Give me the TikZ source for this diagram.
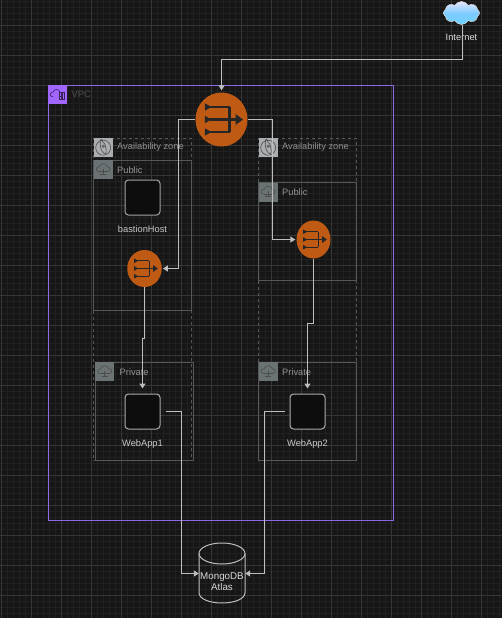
\documentclass[tikz,border=0pt]{standalone}
\usepackage{fontspec}
\setmainfont{Liberation Sans}
\usetikzlibrary{shapes.geometric,shapes.symbols,arrows.meta}

\definecolor{bgdark}{HTML}{161616}
\definecolor{gridminor}{HTML}{212121}
\definecolor{gridmajor}{HTML}{363636}
\definecolor{vpcline}{HTML}{8F66E6}
\definecolor{vpcfill}{HTML}{A166FF}
\definecolor{natfill}{HTML}{BF5A15}
\definecolor{zonegray}{HTML}{ABAEB0}
\definecolor{subgray}{HTML}{6B7274}
\definecolor{boxline}{HTML}{54585A}
\definecolor{linkgray}{HTML}{BEBEBE}

\tikzset{
  group/.style={draw=boxline, line width=1pt, anchor=north west, inner sep=0pt, outer sep=0pt},
  zone/.style={group, dash pattern=on 3pt off 3pt},
  badge/.style={anchor=north west, minimum size=19pt, inner sep=0pt},
  caption/.style={text=#1, font=\fontsize{9.3}{11}\selectfont, anchor=west, inner sep=0pt},
  natround/.style={ellipse, fill=natfill, inner sep=0pt},
  hostbox/.style={draw=#1, fill=bgdark!60!black, line width=1pt, rounded corners=3.5pt, minimum size=35pt, inner sep=0pt},
  textonly/.style={text=#1, font=\fontsize{9.3}{11}\selectfont, inner sep=0pt, align=center},
  link/.style={draw=linkgray, line width=1pt, -{Triangle[length=5pt,width=6pt]}},
  natIcon/.pic={
    \draw (-12,-12.5) -- (8,-12.5) (-12,12.5) -- (8,12.5) (8,-12.5) -- (8,12.5) (-12,0) -- (15,0);
    \fill (-16.7,-16.2) -- (-10,-12.5) -- (-16.7,-8.8) -- cycle;
    \fill (-16.7,-3.7) -- (-10,0) -- (-16.7,3.7) -- cycle;
    \fill (-16.7,8.8) -- (-10,12.5) -- (-16.7,16.2) -- cycle;
    \fill (14,-5.5) -- (21.5,0) -- (14,5.5) -- cycle;
  },
  smallCloud/.pic={
    \draw (-4,3) .. controls (-8,3) and (-8,-2) .. (-4,-2) .. controls (-3,-6) and (3,-6) .. (4,-2) .. controls (8,-2) and (8,3) .. (4,3);
  },
  lockCloud/.pic={
    \pic {smallCloud};
    \draw (-4,3) -- (4,3);
    \draw (-3,5.5) -- (3,5.5) (0,0) -- (0,5.5);
  }
}

\begin{document}
\begin{tikzpicture}[x=1pt, y=-1pt]
  \useasboundingbox (0,0) rectangle (502,618);
  \fill[bgdark] (0,0) rectangle (502,618);

  % grid
  \foreach \i in {0,...,84} \draw[gridminor, line width=1pt] (1.5+6*\i,0) -- (1.5+6*\i,618);
  \foreach \i in {-4,...,99} \draw[gridminor, line width=1pt] (0,25.5+6*\i) -- (502,25.5+6*\i);
  \foreach \i in {0,...,16} \draw[gridmajor, line width=1pt] (1.5+30*\i,0) -- (1.5+30*\i,618);
  \foreach \i in {0,...,19} \draw[gridmajor, line width=1pt] (0,25.5+30*\i) -- (502,25.5+30*\i);

  % groups
  \node[draw=vpcline, line width=1pt, anchor=north west, inner sep=0pt, outer sep=0pt, minimum width=344.7pt, minimum height=434.8pt] (vpc) at (48.5,85.7) {};
  \node[zone, minimum width=98pt, minimum height=322pt] (zoneA) at (93.5,138.5) {};
  \node[zone, minimum width=98pt, minimum height=322pt] (zoneB) at (258.5,138.5) {};
  \node[group, minimum width=98pt, minimum height=150pt] (publicA) at (93.5,160.5) {};
  \node[group, minimum width=98pt, minimum height=98pt] (publicB) at (258.5,182.5) {};
  \node[group, minimum width=98pt, minimum height=98pt] (privateA) at (95.5,362.5) {};
  \node[group, minimum width=98pt, minimum height=98pt] (privateB) at (258.5,362.5) {};

  % badges
  \node[badge, fill=vpcfill] (vpcBadge) at (48,85) {};
  \node[badge, fill=zonegray] (zoneABadge) at (93.5,138) {};
  \node[badge, fill=zonegray] (zoneBBadge) at (258.5,138) {};
  \node[badge, fill=subgray] (publicABadge) at (93.5,160) {};
  \node[badge, fill=subgray] (publicBBadge) at (258.5,182.5) {};
  \node[badge, fill=subgray] (privateABadge) at (95,362) {};
  \node[badge, fill=subgray] (privateBBadge) at (258.5,362) {};

  \draw[black!65!vpcfill, line width=0.6pt] (56.5,94) pic[scale=0.9] {smallCloud};
  \draw[black!65!vpcfill, line width=0.6pt] (59.5,92.5) rectangle (64,99.5);
  \draw[black!65!vpcfill, line width=0.6pt] (61,93) -- (61,99) (62.5,93) -- (62.5,99);
  \foreach \b in {zoneABadge,zoneBBadge} {
    \draw[black!70, line width=0.6pt] (\b) circle (7.5pt);
    \draw[black!70, line width=0.6pt] (\b) ++(0,5) .. controls +(-5,-5) and +(-3,-10) .. ++(0,-10) .. controls +(3,0) and +(5,5) .. ++(0,10);
    \draw[black!70, line width=0.6pt] (\b) ++(0,-1.5) circle (1.2pt);
  }
  \foreach \b in {publicABadge,publicBBadge,privateABadge,privateBBadge}
    \draw[black!70, line width=0.6pt] (\b) ++(0,-1) pic {lockCloud};

  % captions
  \node[caption=black!55!white!70!black] (vpcText) at (71.5,94.5) {VPC};
  \node[caption=gray!90] (zoneAText) at (117,147.5) {Availability zone};
  \node[caption=gray!90] (zoneBText) at (282,147.5) {Availability zone};
  \node[caption=gray!85] (publicAText) at (117,170) {Public};
  \node[caption=gray!85] (publicBText) at (282,192.5) {Public};
  \node[caption=gray!85] (privateAText) at (119.5,372.5) {Private};
  \node[caption=gray!85] (privateBText) at (282,372.5) {Private};

  % nodes
  \node[cloud, cloud puffs=8, cloud puff arc=120, aspect=1.6, draw=white!85!black, line width=0.5pt,
        top color=white!90!blue, bottom color=white!70!blue!60!cyan, middle color=blue!40!cyan!50!white,
        inner sep=0pt, minimum width=36pt, minimum height=23pt] (internet) at (461.5,13) {};
  \node[textonly=white!85!black] (internetText) at (461.5,37.5) {Internet};
  \node[natround, minimum width=52pt, minimum height=54pt] (natMain) at (221.5,119.5) {};
  \node[natround, minimum width=34.5pt, minimum height=37pt] (natA) at (144.5,268.5) {};
  \node[natround, minimum width=34pt, minimum height=38pt] (natB) at (313.5,239.5) {};
  \node[hostbox=linkgray!85!black] (bastionHost) at (142.5,197.5) {};
  \node[hostbox=linkgray!90!black] (webApp1) at (142.5,411.5) {};
  \node[hostbox=linkgray!90!black] (webApp2) at (307.5,411.5) {};
  \node[textonly=gray!45!white] (bastionText) at (142.5,229.5) {bastionHost};
  \node[textonly=gray!40!white] (webApp1Text) at (142.5,444) {WebApp1};
  \node[textonly=gray!40!white] (webApp2Text) at (307.5,444) {WebApp2};
  \node[minimum width=46pt, minimum height=61pt, inner sep=0pt] (mongoDB) at (222,573) {};
  \draw[linkgray, line width=1pt] (222,553.5) ellipse (23pt and 10.5pt);
  \draw[linkgray, line width=1pt] (199,553.5) -- (199,592.5) .. controls (199,606.5) and (245,606.5) .. (245,592.5) -- (245,553.5);
  \node[textonly=white!85!black, font=\fontsize{9.8}{11.5}\selectfont] (mongoText) at (222,581.5) {MongoDB\\Atlas};

  % icons
  \pic[black!85, line width=2.2pt] at (natMain) {natIcon};
  \pic[black!85, line width=1.4pt, scale=0.62] at (natA) {natIcon};
  \pic[black!85, line width=1.4pt, scale=0.62] at (natB) {natIcon};

  % connectors
  \draw[link, shorten >=2pt] (internet.south -| 462.5,0) -- (462.5,59.5) -- (221.5,59.5) -- (natMain.north);
  \draw[link, shorten >=1pt] (natMain.west) -- (178.5,119.5) -- (178.5,268.5) -- (natA.east);
  \draw[link, shorten >=1pt] (natMain.east) -- (272.5,119.5) -- (272.5,239.5) -- (natB.west);
  \draw[link, shorten >=5pt] (natA.south) -- (144.5,338.5) -- (142.5,338.5) -- (webApp1.north);
  \draw[link, shorten >=5pt] (natB.south) -- (313.5,323.5) -- (307.5,323.5) -- (webApp2.north);
  \draw[link, shorten <=5pt] (webApp1.east) -- (181.5,411.5) -- (181.5,573.5) -- (mongoDB.west |- 0,573.5);
  \draw[link, shorten <=5pt] (webApp2.west) -- (264.5,411.5) -- (264.5,573.5) -- (mongoDB.east |- 0,573.5);
\end{tikzpicture}
\end{document}
